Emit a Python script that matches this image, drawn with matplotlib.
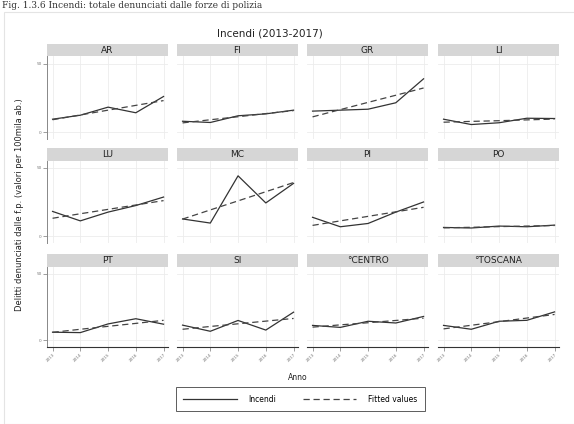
import matplotlib

matplotlib.use("Agg")

import matplotlib.pyplot as plt
from matplotlib.patches import Rectangle
from matplotlib.lines import Line2D

# data (rate per 100k inhabitants)
years = [2013, 2014, 2015, 2016, 2017]
regions = ["AR", "FI", "GR", "LI", "LU", "MC", "PI", "PO",
           "PT", "SI", "°CENTRO", "°TOSCANA"]

incendi = {
    "AR": [9.5, 12.4, 18.3, 14.2, 26.1],
    "FI": [8.0, 7.1, 12.0, 13.4, 16.1],
    "GR": [15.4, 16.1, 16.8, 21.5, 39.0],
    "LI": [9.5, 5.6, 6.9, 10.2, 10.0],
    "LU": [18.1, 11.2, 17.6, 22.4, 28.6],
    "MC": [12.6, 9.6, 44.1, 24.3, 38.6],
    "PI": [13.8, 6.9, 9.3, 17.6, 25.0],
    "PO": [6.4, 6.0, 7.4, 6.9, 8.1],
    "PT": [6.1, 5.8, 12.3, 16.2, 12.1],
    "SI": [11.4, 6.8, 14.9, 7.7, 21.1],
    "°CENTRO": [11.2, 9.7, 14.3, 13.0, 17.9],
    "°TOSCANA": [11.2, 8.3, 14.3, 15.0, 21.3],
}

fitted = {
    "AR": [9.1, 12.6, 16.1, 19.6, 23.1],
    "FI": [6.8, 9.1, 11.3, 13.6, 15.8],
    "GR": [11.2, 16.5, 21.8, 27.0, 32.3],
    "LI": [7.3, 7.9, 8.4, 9.0, 9.6],
    "LU": [13.1, 16.4, 19.6, 22.8, 26.0],
    "MC": [12.5, 19.2, 25.8, 32.5, 39.2],
    "PI": [7.9, 11.2, 14.5, 17.8, 21.1],
    "PO": [6.1, 6.5, 7.0, 7.4, 7.8],
    "PT": [6.0, 8.3, 10.5, 12.7, 15.0],
    "SI": [8.3, 10.4, 12.4, 14.4, 16.4],
    "°CENTRO": [9.9, 11.6, 13.2, 14.9, 16.6],
    "°TOSCANA": [8.6, 11.3, 14.0, 16.7, 19.4],
}

y_ticks = [0, 50]

W, H = 574, 424
fig = plt.figure(figsize=(W / 100, H / 100), dpi=100)
fig.patch.set_facecolor("white")


def px(x, y, w, h):
    # pixel box (top-left origin) -> figure fraction
    return [x / W, 1 - (y + h) / H, w / W, h / H]


# caption line at the very top, and the graph frame
fig.text(2 / W, 1 - 1 / H, "Fig. 1.3.6 Incendi: totale denunciati dalle forze di polizia",
         fontsize=6.5, family="DejaVu Serif", color="#333333", ha="left", va="top")
fig.patches.append(Rectangle((4 / W, 0), 1, 1 - 12 / H, transform=fig.transFigure,
                             facecolor="none", edgecolor="#e4e4e4", linewidth=0.8))

fig.text(270 / W, 1 - 33 / H, "Incendi (2013-2017)", fontsize=7.5,
         ha="center", va="center", color="#222222")

col_x = [47, 177, 307, 438]
panel_w = 121
row_y = [44, 148, 254]
strip_h = 12.5
plot_h = [82, 82, 80]

for i, reg in enumerate(regions):
    r, c = divmod(i, 4)
    x0 = col_x[c]
    y0 = row_y[r]

    sax = fig.add_axes(px(x0, y0, panel_w, strip_h))
    sax.set_facecolor("#d6d6d6")
    sax.set_xticks([])
    sax.set_yticks([])
    for s in sax.spines.values():
        s.set_visible(False)
    sax.text(0.5, 0.45, reg, transform=sax.transAxes, ha="center", va="center",
             fontsize=6.5, color="#222222")

    ax = fig.add_axes(px(x0, y0 + strip_h, panel_w, plot_h[r]))
    ax.set_xlim(2012.8, 2017.16)
    ax.set_ylim(-4.6, 55.3)
    ax.set_xticks(years)
    ax.set_yticks(y_ticks)
    ax.grid(True, color="#ececec", linewidth=0.6)
    ax.set_axisbelow(True)
    for s in ax.spines.values():
        s.set_visible(False)

    ax.plot(years, incendi[reg], color="#333333", linewidth=0.9, zorder=3)
    ax.plot(years, fitted[reg], color="#444444", linewidth=0.9,
            linestyle=(0, (5, 3)), zorder=4)

    if c == 0:
        ax.spines["left"].set_visible(True)
        ax.spines["left"].set_color("#888888")
        ax.spines["left"].set_linewidth(0.7)
        ax.tick_params(axis="y", labelsize=3, length=3, width=0.5,
                       colors="#777777", pad=1)
    else:
        ax.tick_params(axis="y", left=False, labelleft=False)

    if r == 2:
        ax.spines["bottom"].set_visible(True)
        ax.spines["bottom"].set_color("#333333")
        ax.spines["bottom"].set_linewidth(0.8)
        ax.set_xticks(years)
        ax.set_xticklabels([str(y) for y in years], rotation=45,
                           ha="right", rotation_mode="anchor")
        ax.tick_params(axis="x", labelsize=3, length=3, width=0.5,
                       colors="#777777", pad=1.5)
    else:
        ax.tick_params(axis="x", bottom=False, labelbottom=False)

fig.text(20 / W, 1 - 205 / H,
         "Delitti denunciati dalle f.p. (valori per 100mila ab.)",
         rotation=90, fontsize=6, ha="center", va="center", color="#222222")
fig.text(298 / W, 1 - 377 / H, "Anno", fontsize=5.5, ha="center",
         va="center", color="#222222")

handles = [
    Line2D([], [], color="#333333", linewidth=0.9),
    Line2D([], [], color="#444444", linewidth=0.9, linestyle=(0, (5, 3))),
]
leg = fig.legend(handles, ["Incendi", "Fitted values"], ncol=2,
                 loc="center", bbox_to_anchor=(300 / W, 1 - 399 / H),
                 fontsize=5.5, frameon=True, fancybox=False,
                 edgecolor="#333333", handlelength=7, columnspacing=3.5,
                 handletextpad=1.5, borderpad=1.0)
leg.get_frame().set_linewidth(0.7)
leg.get_frame().set_boxstyle("square", pad=0.0)

fig.savefig("out.png", dpi=100, facecolor=fig.get_facecolor())
